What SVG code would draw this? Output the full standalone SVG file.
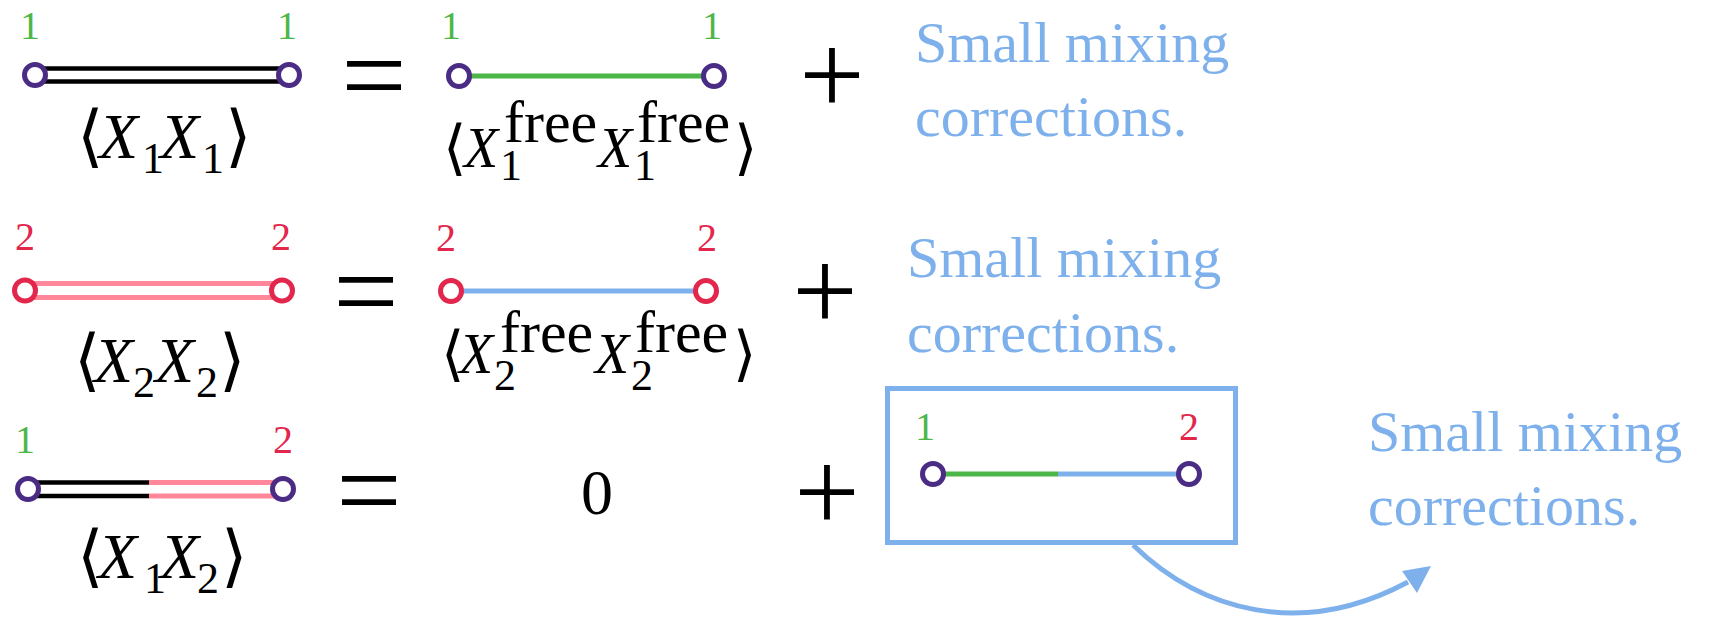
<svg xmlns="http://www.w3.org/2000/svg" width="1717" height="619" viewBox="0 0 1717 619">
<style>
.num{font-family:"Liberation Serif","DejaVu Serif",serif;font-size:40px;text-anchor:middle}
.g{fill:#4CB648}
.r{fill:#E3264C}
.m{font-family:"Liberation Serif","DejaVu Serif",serif;fill:#000}
.it{font-style:italic}
.op{font-family:"Liberation Serif",serif;font-size:116px;fill:#000;text-anchor:middle}
.note{font-family:"Liberation Serif",serif;font-size:58px;fill:#7EB1EC}
.vp{fill:#fff;stroke:#4B2C84;stroke-width:5}
.vr{fill:#fff;stroke:#E3264C;stroke-width:5}
.blk{stroke:#000;stroke-width:4.5}
.pnk{stroke:#FF8799;stroke-width:5}
.grn{stroke:#4CB648;stroke-width:5}
.blu{stroke:#7EB1EC;stroke-width:5}
</style>

<g id="connectors">
<line class="blk" x1="35" y1="68.5" x2="289" y2="68.5"/>
<line class="blk" x1="35" y1="81.5" x2="289" y2="81.5"/>
<line class="grn" x1="459" y1="76" x2="714" y2="76"/>
<line class="pnk" x1="25" y1="283.5" x2="282" y2="283.5"/>
<line class="pnk" x1="25" y1="297.5" x2="282" y2="297.5"/>
<line class="blu" x1="451" y1="291" x2="706" y2="291"/>
<line class="blk" x1="28" y1="482.5" x2="149" y2="482.5"/>
<line class="blk" x1="28" y1="496" x2="149" y2="496"/>
<line class="pnk" x1="149" y1="482.5" x2="283" y2="482.5"/>
<line class="pnk" x1="149" y1="496" x2="283" y2="496"/>
<line class="grn" x1="933" y1="474" x2="1058" y2="474"/>
<line class="blu" x1="1058" y1="474" x2="1189" y2="474"/>
<path d="M1133,545 C1200,610 1300,640 1408,582" fill="none" stroke="#7EB1EC" stroke-width="5"/>
<polygon points="1431,566 1402,571 1417,593" fill="#7EB1EC"/>
</g>

<g id="row1-full">
<circle class="vp" cx="35" cy="75" r="10.5"/>
<circle class="vp" cx="289" cy="75" r="10.5"/>
<text class="num g" x="30" y="39">1</text>
<text class="num g" x="287" y="39">1</text>
<text class="m" font-size="64"><tspan x="77" y="159" font-size="68">⟨</tspan><tspan class="it" x="99" y="158">X</tspan><tspan x="142" y="173" font-size="44">1</tspan><tspan class="it" x="160" y="158">X</tspan><tspan x="202" y="173" font-size="44">1</tspan><tspan x="225" y="159" font-size="68">⟩</tspan></text>
</g>
<text class="op" x="374" y="114">=</text>

<g id="row1-free">
<circle class="vp" cx="459" cy="76" r="10.5"/>
<circle class="vp" cx="714" cy="76" r="10.5"/>
<text class="num g" x="451" y="39">1</text>
<text class="num g" x="712" y="39">1</text>
<text class="m g"><tspan x="443" y="168" font-size="60">⟨</tspan><tspan class="it" x="464" y="167" font-size="56">X</tspan><tspan x="504" y="142" font-size="60">free</tspan><tspan x="500" y="180" font-size="44">1</tspan><tspan class="it" x="598" y="167" font-size="56">X</tspan><tspan x="637" y="142" font-size="60">free</tspan><tspan x="634" y="180" font-size="44">1</tspan><tspan x="734" y="168" font-size="60">⟩</tspan></text>
</g>
<text class="op" x="832" y="114" font-size="110">+</text>
<g id="note1">
<text class="note"><tspan x="915" y="62">Small mixing</tspan><tspan x="915" y="136">corrections.</tspan></text>
</g>

<g id="row2-full">
<circle class="vr" cx="25" cy="290.5" r="10.5"/>
<circle class="vr" cx="282" cy="290.5" r="10.5"/>
<text class="num r" x="25" y="250">2</text>
<text class="num r" x="281" y="250">2</text>
<text class="m" font-size="64"><tspan x="74" y="383" font-size="68">⟨</tspan><tspan class="it" x="94" y="382">X</tspan><tspan x="133" y="397" font-size="44">2</tspan><tspan class="it" x="155" y="382">X</tspan><tspan x="196" y="397" font-size="44">2</tspan><tspan x="219" y="383" font-size="68">⟩</tspan></text>
</g>
<text class="op" x="366" y="330">=</text>

<g id="row2-free">
<circle class="vr" cx="451" cy="291" r="10.5"/>
<circle class="vr" cx="706" cy="291" r="10.5"/>
<text class="num r" x="446" y="251">2</text>
<text class="num r" x="707" y="251">2</text>
<text class="m r"><tspan x="441" y="374" font-size="60">⟨</tspan><tspan class="it" x="459" y="373" font-size="56">X</tspan><tspan x="500" y="352" font-size="60">free</tspan><tspan x="494" y="390" font-size="44">2</tspan><tspan class="it" x="595" y="373" font-size="56">X</tspan><tspan x="635" y="352" font-size="60">free</tspan><tspan x="631" y="390" font-size="44">2</tspan><tspan x="733" y="374" font-size="60">⟩</tspan></text>
</g>
<text class="op" x="825" y="330" font-size="110">+</text>
<g id="note2">
<text class="note"><tspan x="907" y="277">Small mixing</tspan><tspan x="907" y="352">corrections.</tspan></text>
</g>

<g id="row3-full">
<circle class="vp" cx="28" cy="489" r="10.5"/>
<circle class="vp" cx="283" cy="489" r="10.5"/>
<text class="num g" x="25" y="453">1</text>
<text class="num r" x="283" y="453">2</text>
<text class="m" font-size="64"><tspan x="77" y="579" font-size="68">⟨</tspan><tspan class="it" x="98" y="578">X</tspan><tspan x="144" y="593" font-size="44">1</tspan><tspan class="it" x="160" y="578">X</tspan><tspan x="197" y="593" font-size="44">2</tspan><tspan x="221" y="579" font-size="68">⟩</tspan></text>
</g>
<text class="op" x="369" y="529">=</text>
<text class="m" x="597" y="514" font-size="64" text-anchor="middle">0</text>
<text class="op" x="827" y="531" font-size="110">+</text>

<g id="mixing-box">
<rect x="887.5" y="388.5" width="348" height="154" fill="none" stroke="#7EB1EC" stroke-width="5"/>
<circle class="vp" cx="933" cy="474" r="10.5"/>
<circle class="vp" cx="1189" cy="474" r="10.5"/>
<text class="num g" x="925" y="440">1</text>
<text class="num r" x="1189" y="440">2</text>
</g>
<g id="note3">
<text class="note"><tspan x="1368" y="451">Small mixing</tspan><tspan x="1368" y="525">corrections.</tspan></text>
</g>
</svg>
